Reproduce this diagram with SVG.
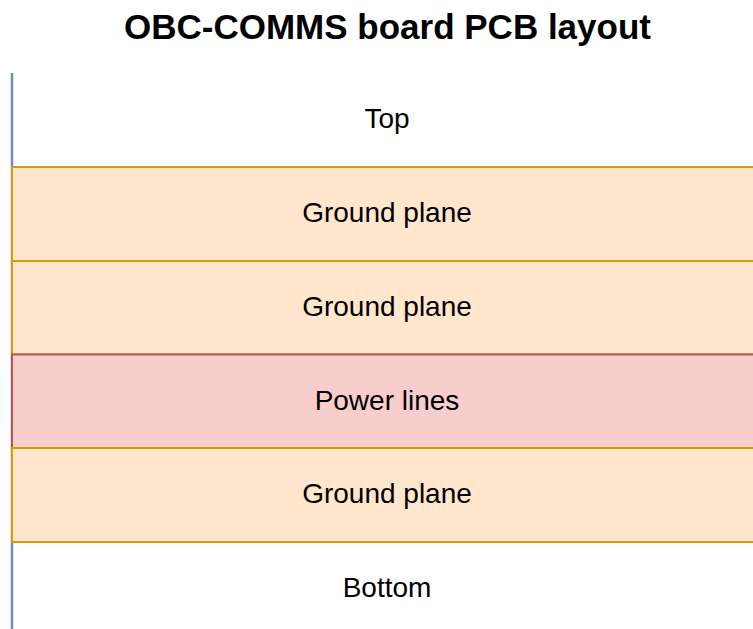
<svg xmlns="http://www.w3.org/2000/svg" width="753" height="629" viewBox="0 0 753 629">
<style>
.lbl{font-family:"Liberation Sans",Arial,sans-serif;font-size:28px;fill:#000;text-anchor:middle}
.gnd{fill:#ffe6cc;stroke:#d79b00;stroke-width:2}
.pwr{fill:#f8cecc;stroke:#b85450;stroke-width:2}
</style>
<rect width="753" height="629" fill="#ffffff"/>
<text x="387.5" y="39" font-family="'Liberation Sans',Arial,sans-serif" font-size="35" font-weight="bold" text-anchor="middle" fill="#000">OBC-COMMS board PCB layout</text>
<g id="stack-edge">
<line x1="12" y1="73" x2="12" y2="629" stroke="#6c8ebf" stroke-width="2.5"/>
</g>
<g id="top">
<text class="lbl" x="387" y="128">Top</text>
</g>
<g id="ground1">
<rect class="gnd" x="12" y="167" width="760" height="94"/>
<text class="lbl" x="387" y="222">Ground plane</text>
</g>
<g id="ground2">
<rect class="gnd" x="12" y="261" width="760" height="93.5"/>
<text class="lbl" x="387" y="316">Ground plane</text>
</g>
<g id="power">
<rect class="pwr" x="12" y="354.5" width="760" height="93.5"/>
<text class="lbl" x="387" y="410">Power lines</text>
</g>
<g id="ground3">
<rect class="gnd" x="12" y="448" width="760" height="94"/>
<text class="lbl" x="387" y="503">Ground plane</text>
</g>
<g id="bottom">
<text class="lbl" x="387" y="597">Bottom</text>
</g>
</svg>
